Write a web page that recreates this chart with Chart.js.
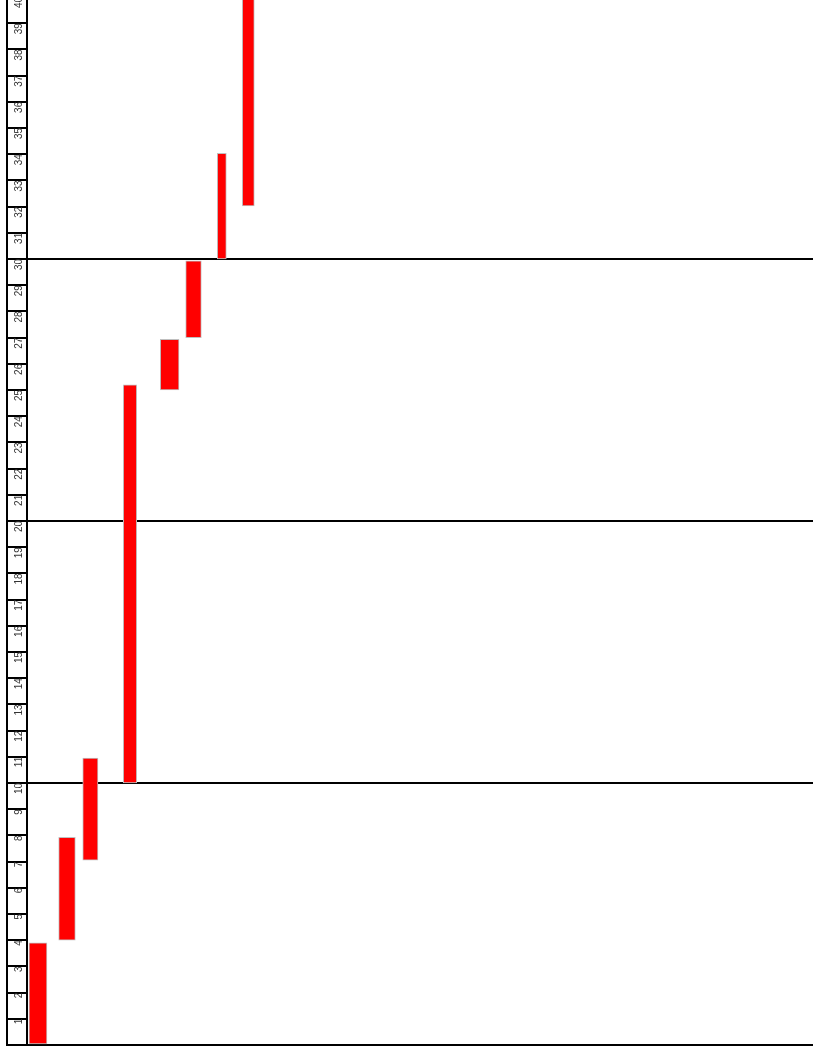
<!DOCTYPE html>
<html>
<head>
<meta charset="utf-8">
<script src="https://cdn.jsdelivr.net/npm/chart.js@4"></script>
<style>
  html, body { margin: 0; padding: 0; background: #fff; overflow: hidden; }
  #chart { position: absolute; left: 0; top: -3px; }
</style>
</head>
<body>
<canvas id="chart" width="813" height="1057"></canvas>
<script>
// horizontal extent of each bar (x scale runs 0 - 100)
const barStart = [0.25, 4.03, 7.09, 12.25, 16.96, 20.19, 24.21, 27.39];
const barEnd   = [2.54, 6.15, 9.03, 13.96, 19.34, 22.18, 25.36, 28.92];
// vertical range of each bar
const barLow  = [0, 4.0, 7.05, 10, 25, 27, 30, 32.03];
const barHigh = [3.9, 7.93, 10.95, 25.2, 26.93, 29.93, 34.03, 40.5];
// row labels 1..40 on the left
const yMax = 40;

const datasets = barLow.map((lo, i) => ({
  data: [{ x: (barStart[i] + barEnd[i]) / 2, y: [lo, barHigh[i]] }],
  backgroundColor: '#ff0000',
  borderColor: '#bfbfbf',
  borderWidth: 1,
  borderSkipped: false,
  grouped: false
}));

const ctx = document.getElementById('chart').getContext('2d');
const chart = new Chart(ctx, {
  type: 'bar',
  data: { datasets: datasets },
  options: {
    responsive: false,
    animation: false,
    layout: { padding: 0 },
    plugins: { legend: { display: false }, tooltip: { enabled: false } },
    scales: {
      x: {
        type: 'linear',
        offset: false,
        min: 0,
        max: 100,
        ticks: { display: false },
        grid: { display: false },
        border: { color: '#000', width: 2 },
        afterFit: s => { s.height = 9; }
      },
      y: {
        type: 'linear',
        position: 'left',
        weight: 0,
        min: 0,
        max: yMax,
        ticks: {
          stepSize: 1,
          autoSkip: false,
          minRotation: 90,
          maxRotation: 90,
          padding: -12,
          color: '#333',
          font: { family: 'Liberation Sans', size: 10 },
          callback: v => v === 0 ? '' : v
        },
        grid: {
          color: c => (c.tick && c.tick.value % 10 === 0) ? '#000' : 'rgba(0,0,0,0)',
          tickColor: '#000',
          lineWidth: 2,
          tickWidth: 2,
          tickLength: 20
        },
        border: { color: '#000', width: 2 },
        afterFit: s => { s.width = 20; }
      },
      yEdge: {
        axis: 'y',
        type: 'linear',
        position: 'left',
        weight: 1,
        min: 0,
        max: yMax,
        ticks: { display: false },
        grid: { display: false },
        border: { color: '#000', width: 2 },
        afterFit: s => { s.width = 7; }
      }
    }
  }
});

// bar widths come from the x scale
const xs = chart.scales.x;
chart.data.datasets.forEach((ds, i) => {
  ds.barThickness = xs.getPixelForValue(barEnd[i]) - xs.getPixelForValue(barStart[i]);
});
chart.update();
</script>
</body>
</html>
